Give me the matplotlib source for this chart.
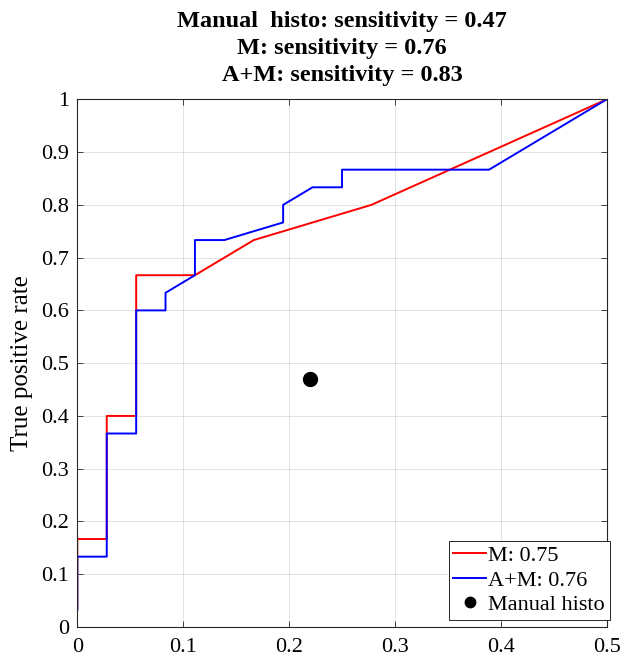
"""ROC curves for M and A+M with the manual histo operating point."""

import matplotlib
matplotlib.use("Agg")
import matplotlib.pyplot as plt
from matplotlib.ticker import FuncFormatter

plt.rcParams.update({
    "font.family": ["Liberation Serif", "DejaVu Serif"],
    "font.size": 16,
    "axes.linewidth": 0.8,
    "xtick.direction": "in",
    "ytick.direction": "in",
})

# ----------------------------------------------------------------------
# Data
# ----------------------------------------------------------------------
m_fpr = [0, 0, 0.0278, 0.0278, 0.0556, 0.0556, 0.1111, 0.1667, 0.2778, 0.5]
m_tpr = [0.0333, 0.1667, 0.1667, 0.4, 0.4, 0.6667, 0.6667, 0.7333, 0.8, 1.0]

am_fpr = [0, 0, 0.0278, 0.0278, 0.0556, 0.0556, 0.0833, 0.0833, 0.1111,
          0.1111, 0.1389, 0.1944, 0.1944, 0.2222, 0.25, 0.25, 0.3889, 0.5]
am_tpr = [0.0333, 0.1333, 0.1333, 0.3667, 0.3667, 0.6, 0.6, 0.6333, 0.6667,
          0.7333, 0.7333, 0.7667, 0.8, 0.8333, 0.8333, 0.8667, 0.8667, 1.0]

histo_fpr = [0.22]
histo_tpr = [0.47]

labels = ["M: 0.75", "A+M: 0.76", "Manual histo"]
title_lines = [
    "Manual  histo: sensitivity = 0.47",
    "M: sensitivity = 0.76",
    "A+M: sensitivity = 0.83",
]
x_ticks = [0, 0.1, 0.2, 0.3, 0.4, 0.5]
y_ticks = [0, 0.1, 0.2, 0.3, 0.4, 0.5, 0.6, 0.7, 0.8, 0.9, 1.0]

# ----------------------------------------------------------------------
# Figure
# ----------------------------------------------------------------------
fig = plt.figure(figsize=(6.22, 6.6), dpi=100)
ax = fig.add_axes([0.1243, 0.05, 0.8511, 0.7995])

ax.plot(m_fpr, m_tpr, color="#ff0000", lw=1.4, label=labels[0])
ax.plot(am_fpr, am_tpr, color="#0000ff", lw=1.4, label=labels[1])
ax.plot(histo_fpr, histo_tpr, "o", color="black", ms=10, label=labels[2])

ax.set_xlim(0, 0.5)
ax.set_ylim(0, 1)
ax.set_xticks(x_ticks)
ax.set_yticks(y_ticks)
fmt = FuncFormatter(lambda v, _: f"{v:g}")
ax.xaxis.set_major_formatter(fmt)
ax.yaxis.set_major_formatter(fmt)
ax.tick_params(top=True, right=True, length=4, width=0.6, color="#262626",
               labelsize=16)
ax.tick_params(axis="x", pad=8)
ax.tick_params(axis="y", pad=6)
ax.grid(True, color="#262626", alpha=0.15, lw=0.6)
ax.set_axisbelow(True)
for sp in ax.spines.values():
    sp.set_color("#262626")

ax.set_ylabel("True positive rate", fontsize=18, labelpad=6)
ax.set_title("\n".join(title_lines), fontsize=17.5, fontweight="bold",
             linespacing=1.38, pad=13)

leg = ax.legend(loc="lower right", bbox_to_anchor=(1.006, 0.013),
                fontsize=16, handlelength=1.45, handletextpad=0.12,
                labelspacing=0.18, borderpad=0.22, borderaxespad=0,
                fancybox=False, framealpha=1, edgecolor="#262626",
                markerscale=0.75)
leg.get_frame().set_linewidth(0.7)

fig.savefig("out.png", dpi=100)
